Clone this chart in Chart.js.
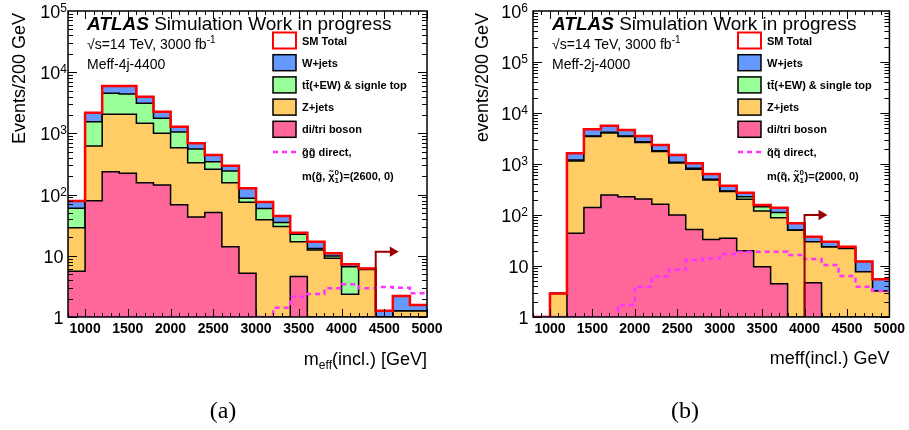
<!DOCTYPE html>
<html>
<head>
<meta charset="utf-8">
<script src="https://cdn.jsdelivr.net/npm/chart.js@4.4.1/dist/chart.umd.min.js"></script>
<style>
  body { margin: 0; background: #fff; }
  #wrap { position: relative; width: 909px; height: 430px; }
  canvas { position: absolute; top: 0; }
</style>
</head>
<body>
<div id="wrap">
  <canvas id="chartA" width="455" height="430" style="left:0"></canvas>
  <canvas id="chartB" width="454" height="430" style="left:455px"></canvas>
</div>
<script>
const FONT = '"Liberation Sans", Arial, Helvetica, sans-serif';

// bin edges (GeV), 200 GeV wide bins
const binEdges = [800, 1000, 1200, 1400, 1600, 1800, 2000, 2200, 2400, 2600, 2800, 3000,
                  3200, 3400, 3600, 3800, 4000, 4200, 4400, 4600, 4800, 5000];
const xTickLabels = [1000, 1500, 2000, 2500, 3000, 3500, 4000, 4500, 5000];

// (a) Meff-4j-4400
const dibosonA = [5.6, 79, 237, 223, 156, 143, 68, 43, 51, 14, 5.2, 0, 0, 4.6, 0, 0, 0, 0, 0, 0, 0];
const zjetsA   = [23, 543, 1815, 1829, 1306, 860, 516, 288, 208, 142, 70, 39, 30, 12.4, 12.4, 9.1, 2.35, 6.0, 0, 1.25, 1.25];
const ttbarA   = [31, 931, 2467, 2348, 1638, 760, 470, 224, 86, 87, 12, 20, 4.9, 5.4, 0.8, 0.8, 4.25, 0, 0, 0, 0];
const wjetsA   = [19, 625, 1434, 1553, 880, 500, 234, 133, 99, 54, 40, 17, 9.9, 1.5, 3.8, 1.1, 0.7, 0.2, 1.27, 0.95, 0.32];
const signalA  = [0, 0, 0, 0, 0, 0, 0, 0, 0, 0, 0, 0, 1.42, 2.15, 2.38, 2.94, 3.42, 2.94, 3.1, 3.0, 2.44];
const cutA = [4400, 4600];
const cutArrowA = 11.7;

// (b) Meff-2j-4000
const dibosonB = [0, 0, 44, 141, 247, 229, 206, 162, 100, 52, 33, 35, 20, 9.7, 4.5, 0, 4.7, 0, 0, 0, 0];
const zjetsB   = [0, 2.9, 1106, 3309, 3803, 3221, 2444, 1598, 950, 738, 452, 255, 183, 110, 84, 50, 25.3, 23.5, 22, 7.7, 3.24];
const ttbarB   = [0, 0, 47, 90, 130, 90, 90, 60, 30, 33, 15, 5, 26, 26, 24, 0.8, 0, 0.4, 0.2, 0, 0];
const wjetsB   = [0, 0, 423, 1250, 1470, 1100, 800, 540, 420, 208, 137, 81, 45, 11, 26, 17.9, 7.6, 6.1, 1.7, 4.5, 2.26];
const signalB  = [0, 0, 0, 0, 0, 1.72, 3.93, 6.2, 8.4, 13.1, 14.1, 17.2, 19.1, 19.1, 19.1, 16.4, 13.7, 10.5, 6.4, 3.93, 3.24];
const cutB = [4000, 4200];
const cutArrowB = 100;

const colWjets = '#6699ff';
const colTtbar = '#99ff99';
const colZjets = '#ffcc66';
const colDiboson = '#ff6699';
const colTotal = '#ff0000';
const colSignal = '#ff33ff';
const colCut = '#990000';

const Y_MIN = 1;

function cumulate(...series) {
    return series[0].map((_, i) => series.reduce((s, arr) => s + arr[i], 0));
}

// histogram -> step points (left edge of each bin + final right edge)
function steps(vals) {
    let pts = vals.map((v, i) => ({ x: binEdges[i], y: Math.max(v, Y_MIN) }));
    pts.push({ x: binEdges[vals.length], y: Math.max(vals[vals.length - 1], Y_MIN) });
    return pts;
}

function textRun(ctx, parts, x, y) {
    // parts: [text, size, weight, dy]
    let cx = x;
    parts.forEach(p => {
        ctx.font = `${p[2] || ''} ${p[1]}px ${FONT}`;
        ctx.fillText(p[0], cx, y + (p[3] || 0));
        cx += ctx.measureText(p[0]).width;
    });
    return cx;
}

function makeDeco(p) {
    return {
        id: 'deco',
        afterDatasetsDraw(chart) {
            let { ctx, chartArea: a, scales: { x, y } } = chart;
            ctx.save();
            ctx.strokeStyle = '#000';
            ctx.lineWidth = 1;
            ctx.beginPath();
            for (let v = 800; v <= 5000; v += 100) {
                let px = Math.round(x.getPixelForValue(v)) + 0.5;
                let len = v % 500 === 0 ? 8 : 4;
                ctx.moveTo(px, a.bottom); ctx.lineTo(px, a.bottom - len);
                ctx.moveTo(px, a.top); ctx.lineTo(px, a.top + len);
            }
            for (let d = 0; d < p.yExp; d++) {
                for (let k = 1; k <= 9; k++) {
                    let py = Math.round(y.getPixelForValue(k * Math.pow(10, d))) + 0.5;
                    let len = k === 1 ? 9 : 5;
                    ctx.moveTo(a.left, py); ctx.lineTo(a.left + len, py);
                    ctx.moveTo(a.right, py); ctx.lineTo(a.right - len, py);
                }
            }
            ctx.stroke();
            ctx.lineWidth = 1.5;
            ctx.strokeRect(a.left, a.top, a.right - a.left, a.bottom - a.top);
            ctx.restore();
        },
        afterDraw(chart) {
            let { ctx, chartArea: a, scales: { y } } = chart;
            ctx.save();
            ctx.fillStyle = '#000';
            ctx.textBaseline = 'alphabetic';
            ctx.textAlign = 'left';

            // y tick labels 1, 10, 10^2 ...
            for (let d = 0; d <= p.yExp; d++) {
                let py = y.getPixelForValue(Math.pow(10, d));
                let base = d === 0 ? '1' : '10';
                ctx.font = `18px ${FONT}`;
                let wb = ctx.measureText(base).width;
                if (d < 2) {
                    ctx.fillText(base, a.left - 4.5 - wb, py + 7);
                } else {
                    ctx.font = `12px ${FONT}`;
                    let we = ctx.measureText(String(d)).width;
                    let r = a.left - p.expGap;
                    ctx.fillText(String(d), r - we, py + 1);
                    ctx.font = `18px ${FONT}`;
                    ctx.fillText(base, r - we - wb, py + 7);
                }
            }

            // y title
            ctx.save();
            ctx.translate(p.yTitleX, a.top + 2);
            ctx.rotate(-Math.PI / 2);
            ctx.textAlign = 'right';
            ctx.font = `18px ${FONT}`;
            ctx.fillText(p.yTitle, 0, 0);
            ctx.restore();

            // x title, right aligned
            let w = 0;
            p.xTitle.forEach(t => { ctx.font = `${t[1]}px ${FONT}`; w += ctx.measureText(t[0]).width; });
            textRun(ctx, p.xTitle, a.right - w, p.xTitleY);

            // panel label
            ctx.font = `24px "Liberation Serif", "Times New Roman", serif`;
            ctx.textAlign = 'center';
            ctx.fillText(p.panel, p.panelX, 418);
            ctx.textAlign = 'left';

            // ATLAS label block
            let tx = p.textX;
            let ex = textRun(ctx, [['ATLAS', 19, 'italic bold']], tx, 30);
            textRun(ctx, [[' Simulation Work in progress', 19]], ex, 30);
            textRun(ctx, [['\u221As=14 TeV, 3000 fb', 14], ['-1', 10, '', -6]], tx, 49);
            textRun(ctx, [[p.region, 14]], tx, 69);

            // legend
            let lx = p.legendX, ly = 40.5, dy = 22.2;
            let items = [
                ['SM Total', '#ffffff', colTotal],
                ['W+jets', colWjets, '#000'],
                [p.ttLabel, colTtbar, '#000'],
                ['Z+jets', colZjets, '#000'],
                ['di/tri boson', colDiboson, '#000']
            ];
            items.forEach((it, i) => {
                let cy = ly + i * dy;
                ctx.fillStyle = it[1];
                ctx.fillRect(lx, cy - 8, 23, 16);
                ctx.strokeStyle = it[2];
                ctx.lineWidth = it[2] === colTotal ? 2 : 1.5;
                ctx.strokeRect(lx, cy - 8, 23, 16);
                ctx.fillStyle = '#000';
                textRun(ctx, [[it[0], 11, 'bold']], lx + 29, cy + 4);
            });
            let sy = ly + 5 * dy + 0.5;
            ctx.strokeStyle = colSignal;
            ctx.lineWidth = 2.5;
            ctx.setLineDash([5, 4]);
            ctx.beginPath();
            ctx.moveTo(lx, sy); ctx.lineTo(lx + 23, sy);
            ctx.stroke();
            ctx.setLineDash([]);
            ctx.fillStyle = '#000';
            textRun(ctx, [[p.sigName, 11, 'bold']], lx + 29, sy + 4);
            let my = ly + 6 * dy + 2;
            let mx = textRun(ctx, [[p.sigMass[0], 11, 'bold']], lx + 29, my + 4);
            ctx.font = `bold 8px ${FONT}`;
            ctx.fillText('0', mx, my - 1);
            ctx.fillText('1', mx, my + 7);
            textRun(ctx, [[p.sigMass[1], 11, 'bold']], mx + 5, my + 4);
            ctx.restore();
        }
    };
}

function drawPanel(id, p) {
    let c1 = p.diboson;
    let c2 = cumulate(p.diboson, p.zjets);
    let c3 = cumulate(p.diboson, p.zjets, p.ttbar);
    let c4 = cumulate(p.diboson, p.zjets, p.ttbar, p.wjets);
    let canvas = document.getElementById(id);

    let stack = (data, color, order) => ({
        data: steps(data), backgroundColor: color, borderColor: '#000', borderWidth: 1.5,
        fill: 'start', stepped: true, pointRadius: 0, order: order
    });

    new Chart(canvas, {
        type: 'line',
        data: {
            datasets: [
                stack(c4, colWjets, 5),
                stack(c3, colTtbar, 4),
                stack(c2, colZjets, 3),
                stack(c1, colDiboson, 2),
                { data: steps(c4), borderColor: colTotal, borderWidth: 2.5, fill: false,
                  stepped: true, pointRadius: 0, order: 1 },
                { data: steps(p.signal), borderColor: colSignal, borderWidth: 2.5, borderDash: [5, 4],
                  fill: false, stepped: true, pointRadius: 0, order: 0 },
                { data: [{ x: p.cut[0], y: Y_MIN }, { x: p.cut[0], y: p.cutY }, { x: p.cut[1], y: p.cutY }],
                  borderColor: colCut, backgroundColor: colCut, borderWidth: 2, fill: false,
                  pointRadius: [0, 0, 4], pointStyle: 'triangle', rotation: 90, order: -1 }
            ]
        },
        options: {
            responsive: false,
            animation: false,
            events: [],
            layout: { padding: { left: 0, top: 11, right: canvas.width - p.right, bottom: 0 } },
            plugins: { legend: { display: false }, tooltip: { enabled: false } },
            scales: {
                x: {
                    type: 'linear', min: 800, max: 5000,
                    grid: { display: false, drawTicks: false },
                    border: { display: false },
                    afterBuildTicks: s => { s.ticks = xTickLabels.map(v => ({ value: v })); },
                    afterFit: s => { s.height = 430 - 317; },
                    ticks: {
                        font: { size: 14, weight: 'bold', family: FONT }, color: '#000',
                        padding: 4, maxRotation: 0, autoSkip: false,
                        callback: v => String(v)
                    }
                },
                y: {
                    type: 'logarithmic', min: 1, max: Math.pow(10, p.yExp),
                    grid: { display: false, drawTicks: false },
                    border: { display: false },
                    ticks: { display: false },
                    afterFit: s => { s.width = p.left; }
                }
            }
        },
        plugins: [makeDeco(p)]
    });
}

drawPanel('chartA', {
    diboson: dibosonA, zjets: zjetsA, ttbar: ttbarA, wjets: wjetsA, signal: signalA,
    cut: cutA, cutY: cutArrowA,
    left: 68, right: 427, yExp: 5, expGap: 1,
    yTitle: 'Events/200 GeV', yTitleX: 25,
    xTitle: [['m', 18], ['eff', 12, '', 4], ['(incl.) [GeV]', 18]], xTitleY: 365,
    panel: '(a)', panelX: 223,
    textX: 87, region: 'Meff-4j-4400', legendX: 273,
    ttLabel: 'tt\u0304(+EW) & signle top',
    sigName: 'g\u0303g\u0303 direct,',
    sigMass: ['m(g\u0303, \u03c7\u0303', ')=(2600, 0)']
});

drawPanel('chartB', {
    diboson: dibosonB, zjets: zjetsB, ttbar: ttbarB, wjets: wjetsB, signal: signalB,
    cut: cutB, cutY: cutArrowB,
    left: 78, right: 436, yExp: 6, expGap: 5,
    yTitle: 'events/200 GeV', yTitleX: 33,
    xTitle: [['meff(incl.) GeV', 18]], xTitleY: 364,
    panel: '(b)', panelX: 230,
    textX: 97, region: 'Meff-2j-4000', legendX: 283,
    ttLabel: 'tt\u0304(+EW) & single top',
    sigName: 'q\u0303q\u0303 direct,',
    sigMass: ['m(q\u0303, \u03c7\u0303', ')=(2000, 0)']
});
</script>
</body>
</html>
